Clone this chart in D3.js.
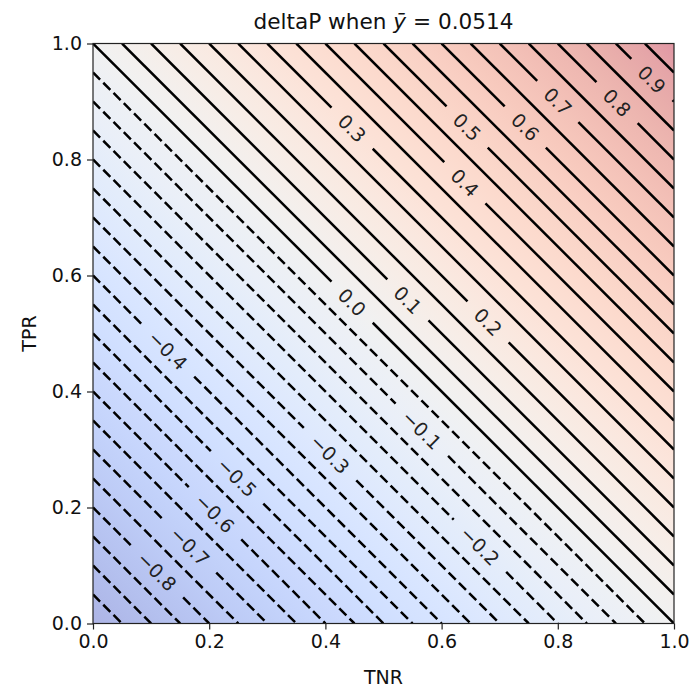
<!DOCTYPE html>
<html>
<head>
<meta charset="utf-8">
<script src="https://cdn.jsdelivr.net/npm/d3@7"></script>
<style>
  body { margin: 0; background: white; }
  svg text { font-family: "DejaVu Sans", sans-serif; }
</style>
</head>
<body>
<div id="chart-container"></div>
<script>
// Contour levels of deltaP (negative ones are dashed)
const levels = [-0.95, -0.9, -0.85, -0.8, -0.75, -0.7, -0.65, -0.6, -0.55, -0.5,
  -0.45, -0.4, -0.35, -0.3, -0.25, -0.2, -0.15, -0.1, -0.05, 0,
  0.05, 0.1, 0.15, 0.2, 0.25, 0.3, 0.35, 0.4, 0.45, 0.5,
  0.55, 0.6, 0.65, 0.7, 0.75, 0.8, 0.85, 0.9, 0.95];

// Labelled levels and where (TNR) the label sits on its line
const labelLevels = [-0.8, -0.7, -0.6, -0.5, -0.4, -0.3, -0.2, -0.1, 0, 0.1, 0.2, 0.3, 0.4, 0.5, 0.6, 0.7, 0.8, 0.9];
const labelTNR = [0.110, 0.167, 0.210, 0.248, 0.129, 0.408, 0.666, 0.566, 0.446, 0.542, 0.680, 0.446, 0.640, 0.644, 0.744, 0.800, 0.902, 0.962];

const xTicks = [0, 0.2, 0.4, 0.6, 0.8, 1.0];
const yTicks = [0, 0.2, 0.4, 0.6, 0.8, 1.0];

// matplotlib coolwarm control points
const coolwarm = [
  [59, 76, 192], [68, 90, 204], [77, 104, 215], [87, 117, 225], [98, 130, 234],
  [108, 142, 241], [119, 154, 247], [130, 165, 251], [141, 176, 254], [152, 185, 255],
  [163, 194, 255], [174, 201, 253], [184, 208, 249], [194, 213, 244], [204, 217, 238],
  [213, 219, 230], [221, 221, 221], [229, 216, 209], [236, 211, 197], [241, 204, 185],
  [245, 196, 173], [247, 187, 160], [247, 177, 148], [247, 166, 135], [244, 154, 123],
  [241, 141, 111], [236, 127, 99], [229, 112, 88], [222, 96, 77], [213, 80, 66],
  [203, 62, 56], [192, 40, 47], [180, 4, 38]
];
const alpha = 0.42;

const width = 691;
const height = 692;
const margin = { top: 43.5, right: 17, bottom: 68.5, left: 93 };
const innerW = width - margin.left - margin.right;
const innerH = height - margin.top - margin.bottom;
const fontSize = '19px';

const svg = d3.select('#chart-container')
  .append('svg')
  .attr('width', width)
  .attr('height', height);

const chart = svg.append('g')
  .attr('transform', `translate(${margin.left}, ${margin.top})`);

const xScale = d3.scaleLinear().domain([0, 1]).range([0, innerW]);
const yScale = d3.scaleLinear().domain([0, 1]).range([innerH, 0]);

// Background: colour along the diagonal (deltaP = TPR + TNR - 1)
const defs = svg.append('defs');
const grad = defs.append('linearGradient')
  .attr('id', 'bg')
  .attr('gradientUnits', 'userSpaceOnUse')
  .attr('x1', xScale(0)).attr('y1', yScale(0))
  .attr('x2', xScale(1)).attr('y2', yScale(1));
coolwarm.forEach((c, i) => {
  const mix = c.map(v => Math.round(255 * (1 - alpha) + v * alpha));
  grad.append('stop')
    .attr('offset', i / (coolwarm.length - 1))
    .attr('stop-color', `rgb(${mix.join(',')})`);
});

defs.append('clipPath').attr('id', 'clip')
  .append('rect').attr('width', innerW).attr('height', innerH);

chart.append('rect')
  .attr('width', innerW)
  .attr('height', innerH)
  .attr('fill', 'url(#bg)');

const plot = chart.append('g').attr('clip-path', 'url(#clip)');

const fmt = d3.format('.1f');
const pxPerTNR = Math.hypot(xScale(1) - xScale(0), yScale(0) - yScale(1));

// Labels first so we know their widths for the line gaps
const labelG = chart.append('g');
const gaps = {};
labelLevels.forEach((lv, i) => {
  const tnr = labelTNR[i];
  const tpr = lv + 1 - tnr;
  const t = labelG.append('text')
    .attr('transform', `translate(${xScale(tnr)}, ${yScale(tpr)}) rotate(45)`)
    .attr('text-anchor', 'middle')
    .attr('dominant-baseline', 'central')
    .attr('font-size', fontSize)
    .attr('fill', '#222')
    .text(fmt(lv));
  const half = (t.node().getComputedTextLength() / 2 + 14) / pxPerTNR;
  gaps[lv.toFixed(2)] = [tnr - half, tnr + half];
});

const line = d3.line()
  .x(d => xScale(d[0]))
  .y(d => yScale(d[1]));

levels.forEach(lv => {
  const t0 = Math.max(0, lv);
  const t1 = Math.min(1, 1 + lv);
  let segs = [[t0, t1]];
  const gap = gaps[lv.toFixed(2)];
  if (gap) segs = [[t0, Math.max(t0, gap[0])], [Math.min(t1, gap[1]), t1]];
  segs.filter(s => s[1] > s[0]).forEach(s => {
    plot.append('path')
      .datum([[s[0], lv + 1 - s[0]], [s[1], lv + 1 - s[1]]])
      .attr('d', line)
      .attr('fill', 'none')
      .attr('stroke', 'black')
      .attr('stroke-width', 2.5)
      .attr('stroke-dasharray', lv < 0 ? '10,4.5' : null);
  });
});

// Axes
const xAxis = chart.append('g')
  .attr('transform', `translate(0, ${innerH})`)
  .call(d3.axisBottom(xScale).tickValues(xTicks).tickFormat(d3.format('.1f')).tickSize(6).tickPadding(5));
const yAxis = chart.append('g')
  .call(d3.axisLeft(yScale).tickValues(yTicks).tickFormat(d3.format('.1f')).tickSize(6).tickPadding(5));

[xAxis, yAxis].forEach(ax => {
  ax.selectAll('text').attr('font-size', fontSize).attr('fill', '#111').attr('font-family', '"DejaVu Sans", sans-serif');
  ax.selectAll('line').attr('stroke', '#222').attr('stroke-width', 1.2);
  ax.select('.domain').remove();
});

// Frame
chart.append('rect')
  .attr('width', innerW)
  .attr('height', innerH)
  .attr('fill', 'none')
  .attr('stroke', '#222')
  .attr('stroke-width', 1.2);

// Axis labels
chart.append('text')
  .attr('x', innerW / 2)
  .attr('y', innerH + 60)
  .attr('text-anchor', 'middle')
  .attr('font-size', fontSize)
  .attr('fill', '#111')
  .text('TNR');

chart.append('text')
  .attr('transform', 'rotate(-90)')
  .attr('x', -innerH / 2)
  .attr('y', -57)
  .attr('text-anchor', 'middle')
  .attr('font-size', fontSize)
  .attr('fill', '#111')
  .text('TPR');

// Title
const title = svg.append('text')
  .attr('x', margin.left + innerW / 2)
  .attr('y', 29)
  .attr('text-anchor', 'middle')
  .attr('font-size', '21.6px')
  .attr('fill', '#111');
title.append('tspan').text('deltaP when ');
title.append('tspan').attr('font-style', 'italic').text('y\u0304');
title.append('tspan').text(' = 0.0514');
</script>
</body>
</html>
